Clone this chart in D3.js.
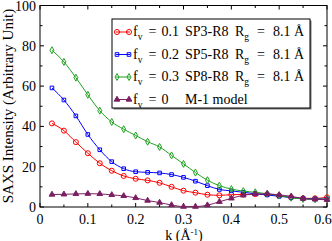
<!DOCTYPE html>
<html>
<head>
<meta charset="utf-8">
<script src="https://cdn.jsdelivr.net/npm/d3@7"></script>
<style>
  html, body { margin: 0; padding: 0; background: #fff; }
  svg { display: block; font-family: "Liberation Serif", "DejaVu Serif", serif; }
</style>
</head>
<body>
<div id="chart"></div>
<script>
// k values (1/Angstrom)
const kValues = [0.025, 0.05, 0.075, 0.1, 0.125, 0.15, 0.175, 0.2, 0.225, 0.25, 0.275, 0.3,
                 0.325, 0.35, 0.375, 0.4, 0.425, 0.45, 0.475, 0.5, 0.525, 0.55, 0.575, 0.6];

const sp3 = [41.5, 37.9, 32.2, 26.7, 21.7, 18.0, 15.4, 14.0, 13.2, 12.0, 10.0, 8.1,
             7.1, 6.1, 5.8, 6.1, 6.2, 6.4, 6.3, 5.6, 4.8, 4.3, 4.3, 4.8];
const sp5 = [59.1, 53.1, 45.2, 36.0, 28.4, 22.5, 19.0, 17.5, 17.2, 16.9, 16.1, 14.7,
             12.8, 10.6, 8.7, 8.0, 7.3, 6.6, 6.0, 5.3, 4.7, 4.2, 4.0, 4.0];
const sp8 = [77.8, 72.0, 64.2, 55.7, 47.8, 42.2, 38.6, 35.5, 32.4, 29.8, 25.6, 21.4,
             17.1, 13.3, 10.6, 8.9, 7.9, 7.3, 6.6, 5.7, 4.6, 4.0, 3.8, 4.0];
const m1 = [6.2, 6.3, 6.5, 6.6, 6.5, 6.0, 5.5, 4.5, 3.2, 2.2, 1.0, 0.2,
            0.2, 0.9, 2.6, 4.3, 5.8, 6.4, 6.5, 6.0, 5.3, 4.2, 3.8, 3.6];

const legendFv = ["0.1", "0.2", "0.3", "0"];
const legendSample = ["SP3-R8", "SP5-R8", "SP8-R8", "M-1"];
const legendRg = ["8.1 Å", "8.1 Å", "8.1 Å", null];

const xTicks = [0, 0.1, 0.2, 0.3, 0.4, 0.5, 0.6];
const yTicks = [0, 20, 40, 60, 80, 100];

const series = [
  { name: "sp3", values: sp3, color: "#ff0000", symbol: "circle" },
  { name: "sp5", values: sp5, color: "#0000ff", symbol: "square" },
  { name: "sp8", values: sp8, color: "#1fa01f", symbol: "diamond" },
  { name: "m1",  values: m1,  color: "#7a1f62", symbol: "triangle" }
];

const W = 332, H = 241;
const pL = 40, pR = 327, pT = 5.5, pB = 207;

const svg = d3.select('#chart').append('svg')
  .attr('width', W).attr('height', H);

const x = d3.scaleLinear().domain([0, 0.6]).range([pL, pR]);
const y = d3.scaleLinear().domain([0, 100]).range([pB, pT]);

// frame
svg.append('rect')
  .attr('x', pL).attr('y', pT)
  .attr('width', pR - pL).attr('height', pB - pT)
  .attr('fill', 'none').attr('stroke', '#000').attr('stroke-width', 1);

// inward ticks on all four sides
const xMinor = d3.range(0, 0.601, 0.05);
const yMinor = d3.range(0, 100.1, 10);
const MAJ = 4, MIN = 2.5;

const ticks = svg.append('g').attr('stroke', '#000').attr('stroke-width', 1);
xMinor.forEach((v, i) => {
  const len = i % 2 === 0 ? MAJ : MIN;
  const px = x(v);
  ticks.append('line').attr('x1', px).attr('x2', px).attr('y1', pB).attr('y2', pB - len);
  ticks.append('line').attr('x1', px).attr('x2', px).attr('y1', pT).attr('y2', pT + len);
});
yMinor.forEach((v, i) => {
  const len = i % 2 === 0 ? MAJ : MIN;
  const py = y(v);
  ticks.append('line').attr('x1', pL).attr('x2', pL + len).attr('y1', py).attr('y2', py);
  ticks.append('line').attr('x1', pR).attr('x2', pR - len).attr('y1', py).attr('y2', py);
});

// tick labels (last one kept inside the window)
svg.append('g').selectAll('text')
  .data(xTicks).enter().append('text')
  .attr('x', d => Math.min(x(d), W - 9))
  .attr('y', 223.5)
  .attr('text-anchor', 'middle')
  .attr('font-size', 14)
  .text(d => d === 0 ? "0" : d3.format(".1f")(d));

svg.append('g').selectAll('text')
  .data(yTicks).enter().append('text')
  .attr('x', 36).attr('y', d => y(d) + 5)
  .attr('text-anchor', 'end')
  .attr('font-size', 14)
  .text(d => d);

// axis titles
const xt = svg.append('text')
  .attr('x', 184).attr('y', 239.5)
  .attr('text-anchor', 'middle')
  .attr('font-size', 14);
xt.append('tspan').text('k (Å');
xt.append('tspan').attr('dy', -5).attr('font-size', 9).text('-1');
xt.append('tspan').attr('dy', 5).text(')');

svg.append('text')
  .attr('transform', 'translate(12.5,106) rotate(-90)')
  .attr('text-anchor', 'middle')
  .attr('font-size', 15)
  .text('SAXS Intensity (Arbitrary Unit)');

// symbols
function symbolPath(type) {
  if (type === 'circle') return d3.symbol(d3.symbolCircle, 20)();
  if (type === 'square') return d3.symbol(d3.symbolSquare, 13)();
  if (type === 'diamond') return d3.symbol(d3.symbolDiamond, 14)();
  return d3.symbol(d3.symbolTriangle, 14)();
}

const line = d3.line()
  .x((d, i) => x(kValues[i]))
  .y(d => y(d))
  .curve(d3.curveMonotoneX);

series.forEach(s => {
  const g = svg.append('g');
  g.append('path')
    .attr('d', line(s.values))
    .attr('fill', 'none')
    .attr('stroke', s.color)
    .attr('stroke-width', 1);
  g.selectAll('path.sym')
    .data(s.values).enter().append('path')
    .attr('class', 'sym')
    .attr('transform', (d, i) => `translate(${x(kValues[i])},${y(d)})`)
    .attr('d', symbolPath(s.symbol))
    .attr('fill', s.symbol === 'triangle' ? s.color : 'none')
    .attr('stroke', s.color)
    .attr('stroke-width', 1);
});

// legend
const lgX = 112, lgY = 19, lgW = 198, lgH = 89;
svg.append('rect')
  .attr('x', lgX + 1.5).attr('y', lgY + 1.5)
  .attr('width', lgW).attr('height', lgH)
  .attr('fill', '#777');
svg.append('rect')
  .attr('x', lgX).attr('y', lgY)
  .attr('width', lgW).attr('height', lgH)
  .attr('fill', '#fff').attr('stroke', '#000').attr('stroke-width', 1);

const rowY = [32, 54.5, 77, 99.5];
series.forEach((s, i) => {
  const ry = rowY[i];
  svg.append('line')
    .attr('x1', lgX + 4).attr('x2', lgX + 18).attr('y1', ry).attr('y2', ry)
    .attr('stroke', s.color).attr('stroke-width', 1);
  [lgX + 5, lgX + 17].forEach(px => {
    svg.append('path')
      .attr('transform', `translate(${px},${ry})`)
      .attr('d', symbolPath(s.symbol))
      .attr('fill', s.symbol === 'triangle' ? s.color : 'none')
      .attr('stroke', s.color).attr('stroke-width', 1);
  });
  const base = ry + 4;
  const t = svg.append('text').attr('y', base).attr('font-size', 14);
  t.append('tspan').attr('x', 133).text('f');
  t.append('tspan').attr('dy', 4).attr('font-size', 9.5).text('v');
  t.append('tspan').attr('x', 148.5).attr('y', base).text('=');
  t.append('tspan').attr('x', 161.5).text(legendFv[i]);
  t.append('tspan').attr('x', 185).text(i === 3 ? legendSample[i] + '  model' : legendSample[i]);
  if (legendRg[i]) {
    t.append('tspan').attr('x', 235).text('R');
    t.append('tspan').attr('dy', 4).attr('font-size', 9.5).text('g');
    t.append('tspan').attr('x', 257).attr('y', base).text('=');
    t.append('tspan').attr('x', 273).text(legendRg[i]);
  }
});
</script>
</body>
</html>
